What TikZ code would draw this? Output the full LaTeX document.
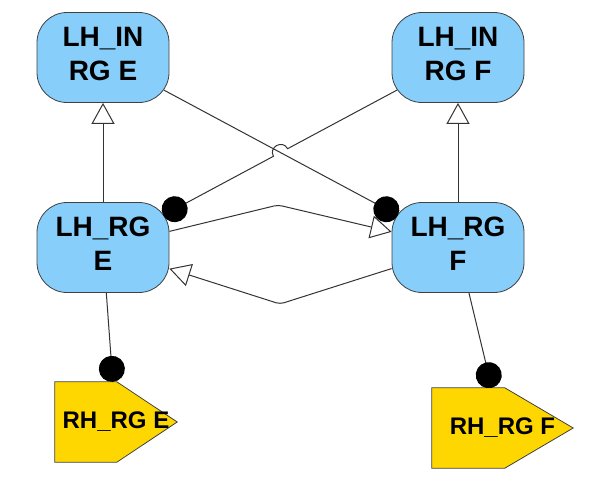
\documentclass[tikz,border=0pt]{standalone}
\usepackage{fontspec}
\setmainfont{Liberation Sans}
\usetikzlibrary{arrows.meta,calc,backgrounds}
\definecolor{nodeblue}{RGB}{135,206,250}
\definecolor{goldy}{RGB}{255,215,0}
\newcommand{\lowfix}{\rule[-7pt]{0pt}{7pt}}
\begin{document}
\begin{tikzpicture}[x=1pt,y=-1pt,
 lh/.style={rectangle, rounded corners=30pt, minimum width=132pt, minimum height=90pt, fill=nodeblue, draw=black!75, line width=0.8pt, align=center, font=\fontsize{28}{34}\selectfont\bfseries, inner sep=0pt},
 rh/.style={rectangle, inner sep=0pt, font=\fontsize{24}{29}\selectfont\bfseries},
 penta/.style={fill=goldy, draw=black!75, line width=0.8pt},
 conn/.style={draw=black!80, line width=1pt},
 inh/.style={conn, -{Triangle[length=21pt, width=23pt, fill=white]}},
 dotend/.style={conn, -{Circle[length=26pt, fill=black, color=black]}},
]
\useasboundingbox (0,0) rectangle (595,496);

\node[lh] (lhie) at (103,57.5) {LH\_IN\\RG E\lowfix};
\node[lh] (lhif) at (458,57.5) {LH\_IN\\RG F\lowfix};
\node[lh] (lhe) at (103,247.5) {LH\_RG\\E\lowfix};
\node[lh] (lhf) at (458,247.5) {LH\_RG\\F\lowfix};

\node[rh, minimum width=122pt, minimum height=80pt] (rhe) at (116,422) {RH\_RG E};
\node[rh, minimum width=141pt, minimum height=80pt] (rhf) at (502.5,428) {RH\_RG F};

\begin{scope}[on background layer]
\path[penta] (rhe.north west) -- ($(rhe.north west)+(62,0)$) -- (rhe.east) -- ($(rhe.south west)+(62,0)$) -- (rhe.south west) -- cycle;
\path[penta] (rhf.north west) -- ($(rhf.north west)+(73,0)$) -- (rhf.east) -- ($(rhf.south west)+(73,0)$) -- (rhf.south west) -- cycle;
\end{scope}

\coordinate (b1) at (278,205);
\coordinate (b2) at (280,304);
\coordinate (rhetop) at ($(rhe.north west)+(58,0)$);
\coordinate (rhftop) at ($(rhf.north west)+(60,0)$);
\coordinate (js) at (287.6,148.7);
\coordinate (je) at (273.4,156.3);
\coordinate (c1) at (282.6,139.3);
\coordinate (c2) at (268.4,146.9);

% inheritance arrows
\draw[inh] (lhe) -- (lhie);
\draw[inh] (lhf) -- (lhif);
\draw[inh, rounded corners=4pt] (lhe) -- (b1) -- (lhf);
\draw[inh, rounded corners=4pt] (lhf) -- (b2) -- (lhe);

% cross associations
\draw[dotend, shorten <=-6pt, shorten >=-7pt] (lhie) -- (lhf);
\draw[dotend, shorten <=-6pt, shorten >=-7pt] (lhif) -- (js) .. controls (c1) and (c2) .. (je) -- (lhe);

% to pentagons
\draw[dotend] (lhe) -- (rhetop);
\draw[dotend] (lhf) -- (rhftop);
\end{tikzpicture}
\end{document}
